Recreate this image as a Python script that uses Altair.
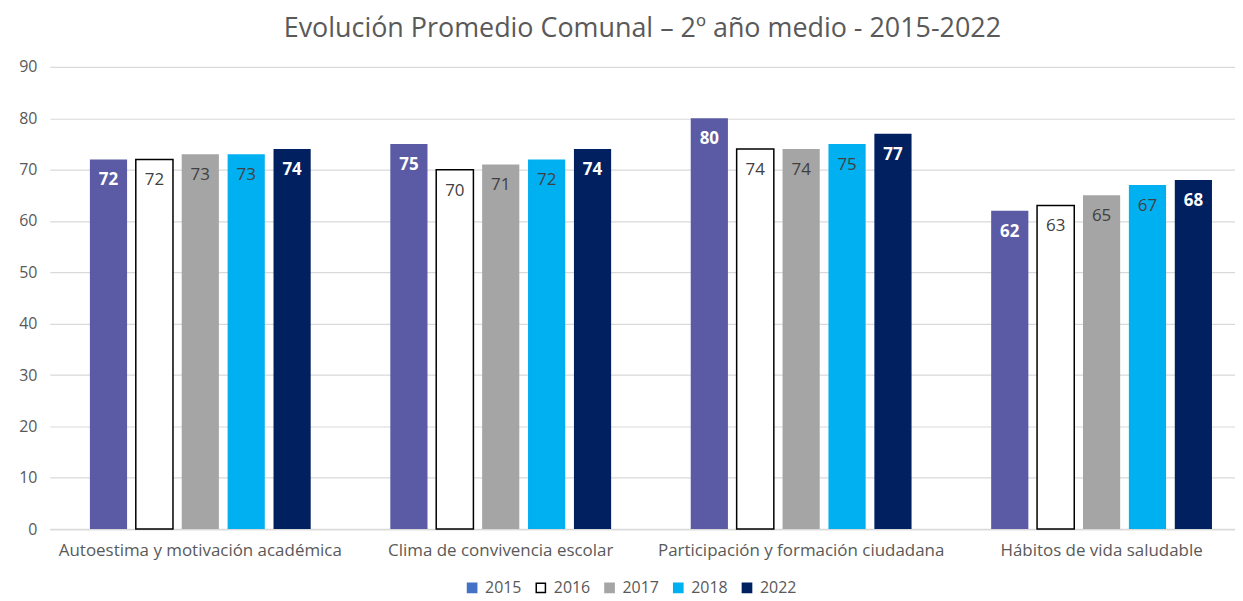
import altair as alt
import pandas as pd

categories = ["Autoestima y motivación académica", "Clima de convivencia escolar",
              "Participación y formación ciudadana", "Hábitos de vida saludable"]
years = ["2015", "2016", "2017", "2018", "2022"]
v2015 = [72, 75, 80, 62]
v2016 = [72, 70, 74, 63]
v2017 = [73, 71, 74, 65]
v2018 = [73, 72, 75, 67]
v2022 = [74, 74, 77, 68]

series = {"2015": v2015, "2016": v2016, "2017": v2017, "2018": v2018, "2022": v2022}
rows = []
for y in years:
    for c, v in zip(categories, series[y]):
        rows.append({"cat": c, "year": y, "value": v})
df = pd.DataFrame(rows)

bar_colors = ["#5A5AA5", "#FFFFFF", "#A5A5A5", "#00B0F0", "#002060"]
legend_fill = ["#4472C4", "#FFFFFF", "#A5A5A5", "#00B0F0", "#002060"]
legend_stroke = ["#4472C4", "#000000", "#A5A5A5", "#00B0F0", "#002060"]

FONT = "Open Sans"

x = alt.X("cat:N", sort=categories, title=None,
          scale=alt.Scale(paddingInner=0.265, paddingOuter=0.105, align=0.635),
          axis=alt.Axis(labelAngle=0, labelFontSize=17, labelColor="#595959", labelFont=FONT,
                        labelLimit=0, ticks=False, tickSize=0, labelPadding=14,
                        domainColor="#D9D9D9", domainWidth=1.5, grid=False))
xo = alt.XOffset("year:N", sort=years, scale=alt.Scale(paddingInner=0.19))
y = alt.Y("value:Q", title=None,
          scale=alt.Scale(domain=[0, 90]),
          axis=alt.Axis(values=list(range(0, 100, 10)), labelFontSize=16, labelColor="#595959",
                        labelFont=FONT, ticks=False, tickSize=0, labelPadding=13, domain=False,
                        gridColor="#D9D9D9", gridWidth=1.2))

base = alt.Chart(df)

bars = base.mark_bar(stroke="black").encode(
    x=x, xOffset=xo, y=y,
    color=alt.Color("year:N", sort=years, scale=alt.Scale(domain=years, range=bar_colors), legend=None),
    strokeWidth=alt.condition(alt.datum.year == "2016", alt.value(1.5), alt.value(0)),
)

leg = alt.Legend(title=None, orient="none", direction="horizontal", legendX=416, legendY=515,
                 symbolOpacity=1, symbolSize=85, symbolStrokeWidth=1.5, labelFontSize=16,
                 labelColor="#595959", labelFont=FONT, labelOffset=5,
                 columnPadding=11, symbolType="square")

legend_layer = base.mark_point(shape="square", filled=True, size=0).encode(
    x=alt.X("cat:N", sort=categories),
    y=alt.Y("value:Q"),
    fill=alt.Fill("year:N", sort=years, scale=alt.Scale(domain=years, range=legend_fill), legend=leg),
    stroke=alt.Stroke("year:N", sort=years, scale=alt.Scale(domain=years, range=legend_stroke), legend=leg),
)

white_labels = base.transform_filter(
    alt.FieldOneOfPredicate(field="year", oneOf=["2015", "2022"])
).mark_text(baseline="middle", dy=21, fontSize=17, fontWeight="bold", color="white", font=FONT).encode(
    x=x, xOffset=xo, y=y, text=alt.Text("value:Q"))

gray_labels = base.transform_filter(
    alt.FieldOneOfPredicate(field="year", oneOf=["2016", "2017", "2018"])
).mark_text(baseline="middle", dy=21, fontSize=17, color="#404040", font=FONT).encode(
    x=x, xOffset=xo, y=y, text=alt.Text("value:Q"))

chart = alt.layer(bars, legend_layer, white_labels, gray_labels).resolve_scale(
    color="independent", fill="independent", stroke="independent"
).resolve_legend(
    color="independent", fill="independent", stroke="independent"
).properties(
    width=1190, height=464,
    title=alt.TitleParams("Evolución Promedio Comunal – 2º año medio - 2015-2022",
                          fontSize=27, fontWeight="normal", color="#595959", font=FONT,
                          anchor="middle", offset=16),
    autosize=alt.AutoSizeParams(type="none"),
    padding={"left": 42, "top": 58, "right": 0, "bottom": 70},
).configure_view(stroke=None)

chart.save("out.html", embed_options={"renderer": "svg", "actions": False})
